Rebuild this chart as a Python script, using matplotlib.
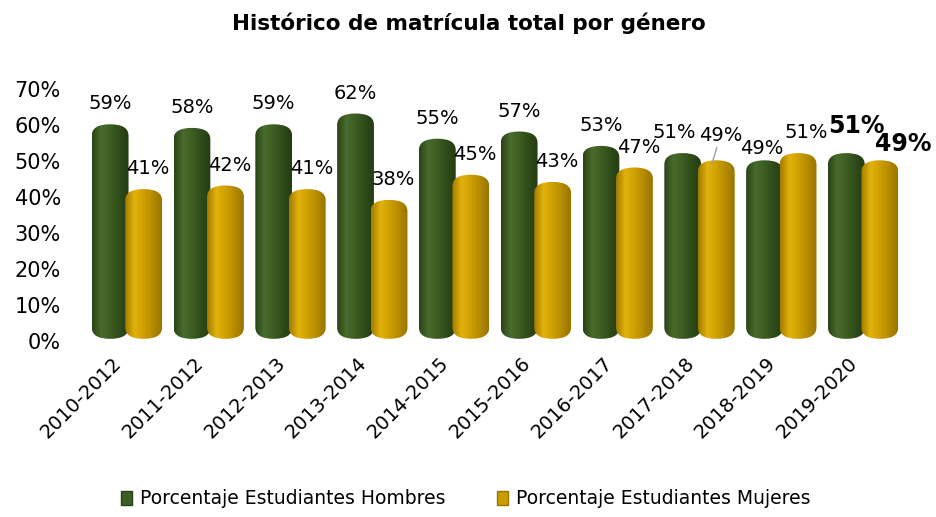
import numpy as np
import matplotlib
matplotlib.use("Agg")
import matplotlib.pyplot as plt
from matplotlib.patches import FancyBboxPatch, Patch
from matplotlib.colors import LinearSegmentedColormap
from matplotlib.transforms import ScaledTranslation

periodos = ["2010-2012", "2011-2012", "2012-2013", "2013-2014", "2014-2015",
            "2015-2016", "2016-2017", "2017-2018", "2018-2019", "2019-2020"]
hombres = [59, 58, 59, 62, 55, 57, 53, 51, 49, 51]
mujeres = [41, 42, 41, 38, 45, 43, 47, 49, 51, 49]

plt.rcParams['font.family'] = ['DejaVu Sans']

green_cmap = LinearSegmentedColormap.from_list(
    "g", ["#2a4417", "#486c2d", "#3d5e22", "#2f4b1a", "#243d12"])
yellow_cmap = LinearSegmentedColormap.from_list(
    "y", ["#a27b00", "#e2b20c", "#cfa000", "#b68b00", "#9a7500"])

fig = plt.figure(figsize=(9.37, 5.17), dpi=100)
ax = fig.add_axes([86 / 937, 176 / 517, 818 / 937, 252 / 517])

x = np.arange(len(periodos))
w = 0.45
b1 = ax.bar(x - w / 2 + 0.02, hombres, w, color="none")
b2 = ax.bar(x + w / 2 - 0.02, mujeres, w, color="none")

grad = np.linspace(0, 1, 64).reshape(1, -1)


def cylinder(bar, cmap):
    bx, by, bw, bh = bar.get_x(), bar.get_y(), bar.get_width(), bar.get_height()
    # un poco de casquete por encima del valor, como el cilindro 3D
    top = bh + 1.2
    patch = FancyBboxPatch((bx, by + 0.6), bw, top - 0.6,
                           boxstyle="round,pad=0,rounding_size=%f" % (bw / 2),
                           mutation_aspect=14, facecolor="none", edgecolor="none")
    ax.add_patch(patch)
    im = ax.imshow(grad, cmap=cmap, aspect="auto", extent=[bx, bx + bw, by, by + top],
                   zorder=2)
    im.set_clip_path(patch)


for bar in b1:
    cylinder(bar, green_cmap)
for bar in b2:
    cylinder(bar, yellow_cmap)

ax.set_xlim(-0.5, 9.5)
ax.set_ylim(0, 70)
ax.set_yticks(range(0, 71, 10))
ax.set_yticklabels(["%d%%" % v for v in range(0, 71, 10)], fontsize=15)
ax.set_xticks(x)
ax.set_xticklabels(periodos, rotation=45, ha="right", va="center",
                   rotation_mode="anchor", fontsize=14)
ax.tick_params(axis="y", length=0, pad=18)
ax.tick_params(axis="x", length=0, pad=14)
shift = ScaledTranslation(-6 / 72, 0, fig.dpi_scale_trans)
for lbl in ax.get_xticklabels():
    lbl.set_transform(lbl.get_transform() + shift)
for s in ax.spines.values():
    s.set_visible(False)

# etiquetas de datos
for i, bar in enumerate(b1):
    cx = bar.get_x() + bar.get_width() / 2
    if i == 9:
        ax.annotate("%d%%" % hombres[i], (cx, hombres[i]), xytext=(7, 14),
                    textcoords="offset points", ha="center", va="bottom",
                    fontsize=17, fontweight="bold")
    else:
        off = {7: (-6, 11), 8: (-2, 5)}.get(i, (0, 11))
        ax.annotate("%d%%" % hombres[i], (cx, hombres[i]), xytext=off,
                    textcoords="offset points", ha="center", va="bottom",
                    fontsize=14)
for i, bar in enumerate(b2):
    cx = bar.get_x() + bar.get_width() / 2
    if i == 9:
        ax.annotate("%d%%" % mujeres[i], (cx, mujeres[i]), xytext=(17, 6),
                    textcoords="offset points", ha="center", va="bottom",
                    fontsize=17, fontweight="bold")
    elif i == 7:
        ax.annotate("%d%%" % mujeres[i], (cx - 0.05, mujeres[i] + 0.5),
                    xytext=(6, 13), textcoords="offset points", ha="center",
                    va="bottom", fontsize=14,
                    arrowprops=dict(arrowstyle="-", color="#a0a0a0", lw=1,
                                    shrinkA=0, shrinkB=0))
    else:
        dx = 6 if i == 8 else 3
        ax.annotate("%d%%" % mujeres[i], (cx, mujeres[i]), xytext=(dx, 11),
                    textcoords="offset points", ha="center", va="bottom",
                    fontsize=14)

fig.text(0.5, 0.955, "Histórico de matrícula total por género", ha="center",
         va="center", fontsize=15.5, fontweight="bold")

handles = [Patch(facecolor="#3d5e22", edgecolor="#2a4216"),
           Patch(facecolor="#c99c00", edgecolor="#9a7400")]
fig.legend(handles, ["Porcentaje Estudiantes Hombres", "Porcentaje Estudiantes Mujeres"],
           loc="center", bbox_to_anchor=(0.497, 0.035), ncol=2, frameon=False,
           fontsize=13.5, handlelength=0.6, handleheight=0.8, handletextpad=0.43,
           columnspacing=2.7)

fig.savefig("out.png", dpi=100)
